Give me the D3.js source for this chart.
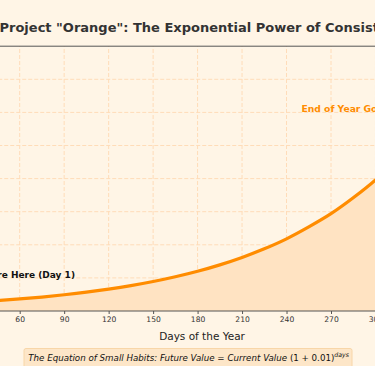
<!DOCTYPE html>
<html>
<head>
<meta charset="utf-8">
<script src="https://cdn.jsdelivr.net/npm/d3@7"></script>
<style>
  html, body { margin: 0; padding: 0; background: #fff5e6; overflow: hidden; }
  svg { display: block; font-family: "DejaVu Sans", sans-serif; }
</style>
</head>
<body>
<script>
// values (growth multiple per day)
const days   = [1, 15, 30, 45, 60, 75, 90, 105, 120, 135, 150, 165, 180, 195, 210, 225, 240, 255, 270, 285, 300, 315, 330, 345, 365];
const values = [1.01, 1.16, 1.35, 1.56, 1.82, 2.11, 2.45, 2.84, 3.30, 3.83, 4.45, 5.17, 6.00, 6.97, 8.09, 9.39, 10.9, 12.7, 14.7, 17.1, 19.8, 23.0, 26.7, 31.0, 37.8];
const xTicks = [0, 30, 60, 90, 120, 150, 180, 210, 240, 270, 300, 330, 360];
const yTicks = [5, 10, 15, 20, 25, 30, 35];

const data = days.map((d, i) => ({ day: d, value: values[i] }));

const width = 375, height = 366;

const svg = d3.select("body").append("svg")
    .attr("width", width)
    .attr("height", height);

svg.append("rect").attr("width", width).attr("height", height).attr("fill", "#fff5e6");

// the plot is wider than the window, so the ranges run past the edges
const x = d3.scaleLinear().domain([60, 270]).range([19.7, 331]);
const y = d3.scaleLinear().domain([0, 40]).range([311, 46.2]);

const xLeft = x(1), xRight = x(365);
const cx = (xLeft + xRight) / 2;

// grid
svg.append("g").selectAll("line").data(yTicks).enter().append("line")
    .attr("x1", xLeft).attr("x2", xRight)
    .attr("y1", d => y(d)).attr("y2", d => y(d))
    .attr("stroke", "#ffdcb8").attr("stroke-width", 1)
    .attr("stroke-dasharray", "4,2");

svg.append("g").selectAll("line").data(xTicks.filter(d => d > 1)).enter().append("line")
    .attr("x1", d => x(d)).attr("x2", d => x(d))
    .attr("y1", y(0)).attr("y2", y(40))
    .attr("stroke", "#ffdcb8").attr("stroke-width", 1)
    .attr("stroke-dasharray", "4,2");

// area + line
const area = d3.area()
    .x(d => x(d.day))
    .y0(y(0))
    .y1(d => y(d.value))
    .curve(d3.curveMonotoneX);

const line = d3.line()
    .x(d => x(d.day))
    .y(d => y(d.value))
    .curve(d3.curveMonotoneX);

svg.append("path").datum(data)
    .attr("d", area)
    .attr("fill", "#ffe3c2");

svg.append("path").datum(data)
    .attr("d", line)
    .attr("fill", "none")
    .attr("stroke", "#ff8c00")
    .attr("stroke-width", 3.2);

// top spine
svg.append("line")
    .attr("x1", xLeft).attr("x2", xRight)
    .attr("y1", y(40)).attr("y2", y(40))
    .attr("stroke", "#555").attr("stroke-width", 1);

// x axis
const xAxis = svg.append("g")
    .attr("transform", `translate(0,${y(0)})`)
    .call(d3.axisBottom(x).tickValues(xTicks).tickSize(3).tickPadding(2.5));
xAxis.select(".domain").attr("d", `M${xLeft},0H${xRight}`).attr("stroke", "#555");
xAxis.selectAll(".tick line").attr("stroke", "#555");
xAxis.selectAll("text")
    .style("font-family", "DejaVu Sans")
    .style("font-size", "7.6px")
    .attr("fill", "#333");

svg.append("text")
    .attr("x", cx).attr("y", 340)
    .attr("text-anchor", "middle")
    .style("font-size", "10.5px")
    .attr("fill", "#222")
    .text("Days of the Year");

// title
svg.append("text")
    .attr("x", -0.5).attr("y", 32.3)
    .style("font-size", "13px")
    .style("font-weight", "bold")
    .attr("fill", "#333")
    .text('Project "Orange": The Exponential Power of Consistency');

// annotations
svg.append("text")
    .attr("x", 75).attr("y", 278)
    .attr("text-anchor", "end")
    .style("font-size", "9px")
    .style("font-weight", "bold")
    .attr("fill", "#111")
    .text("You Are Here (Day 1)");

svg.append("text")
    .attr("x", 301.5).attr("y", 112)
    .style("font-size", "9.2px")
    .style("font-weight", "bold")
    .attr("fill", "#ff8c00")
    .text("End of Year Goal: 37.8x");

// formula box
svg.append("rect")
    .attr("x", 24).attr("y", 348.5)
    .attr("width", 328).attr("height", 30)
    .attr("rx", 2)
    .attr("fill", "#fde6c8")
    .attr("stroke", "#f8d6a8")
    .attr("stroke-width", 1);

const eq = svg.append("text")
    .attr("x", 28.3).attr("y", 361)
    .style("font-size", "8.7px")
    .attr("fill", "#111");
eq.append("tspan").style("font-style", "italic")
    .text("The Equation of Small Habits: Future Value = Current Value ");
eq.append("tspan").text("(1 + 0.01)");
eq.append("tspan").attr("dy", -4).style("font-size", "6.2px").style("font-style", "italic")
    .text("days");
</script>
</body>
</html>
